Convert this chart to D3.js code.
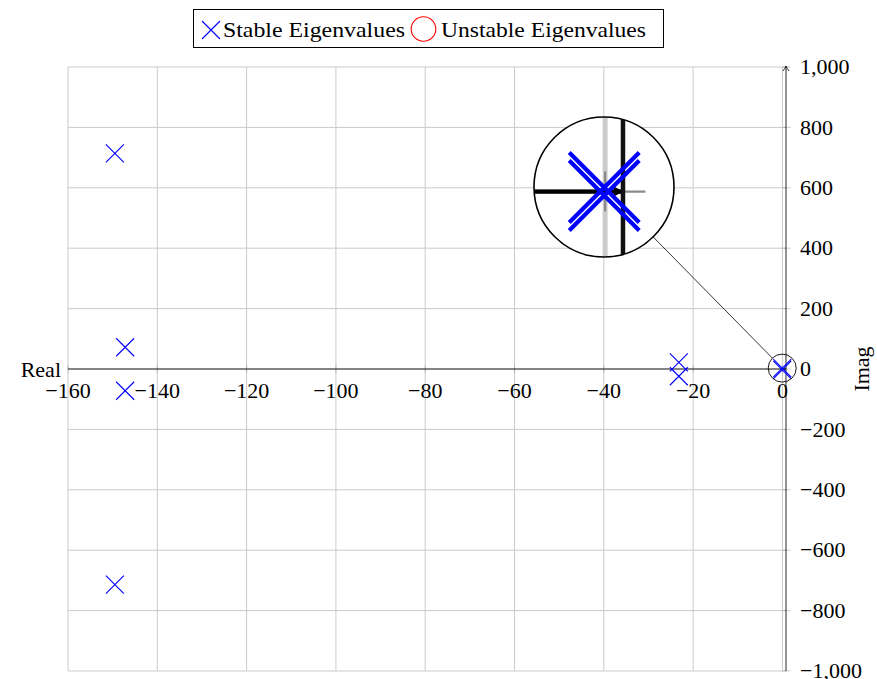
<!DOCTYPE html>
<html>
<head>
<meta charset="utf-8">
<script src="https://cdn.jsdelivr.net/npm/d3@7"></script>
<style>
  body { margin: 0; background: #fff; }
  text { font-family: "Liberation Serif", "Times New Roman", serif; font-size: 22px; fill: #000; }
</style>
</head>
<body>
<svg id="chart" width="877" height="679"></svg>
<script>
// Eigenvalues of the closed-loop system (real part, imaginary part)
const stableRe   = [-149.5, -149.5, -147.2, -147.2, -23.2, -23.2, -0.04, -0.04];
const stableIm   = [714, -714, 72, -72, 22, -24, 2.6, -2.6];
const unstableRe = [];
const unstableIm = [];

const xTicks = [-160, -140, -120, -100, -80, -60, -40, -20, 0];
const yTicks = [-1000, -800, -600, -400, -200, 0, 200, 400, 600, 800, 1000];
const legendLabels = ["Stable Eigenvalues", "Unstable Eigenvalues"];
const axisTitles = ["Real", "Imag"];

// magnified inset around the origin
const spyFocus = [-0.05, 3];
const spyMag = 5;

const svg = d3.select("#chart");
const x = d3.scaleLinear().domain([-160, 0.8]).range([68, 786]);
const y = d3.scaleLinear().domain([-1000, 1000]).range([671, 67]);
const fmt = d3.format(",");

const stable = stableRe.map((r, i) => ({ re: r, im: stableIm[i] }));
const unstable = unstableRe.map((r, i) => ({ re: r, im: unstableIm[i] }));

const crossPath = s => `M${-s},${-s}L${s},${s}M${-s},${s}L${s},${-s}`;

// everything that lives in data space; reused for the magnified inset
function drawScene(g, opt) {
  const [x0, x1] = x.range();
  const [y0, y1] = y.range();

  // grid
  g.append("g").selectAll("line").data(xTicks).join("line")
    .attr("x1", d => x(d)).attr("x2", d => x(d))
    .attr("y1", y1).attr("y2", y0)
    .attr("stroke", "#cbcbcb").attr("stroke-width", 1);
  g.append("g").selectAll("line").data(yTicks).join("line")
    .attr("x1", x0).attr("x2", x1)
    .attr("y1", d => y(d)).attr("y2", d => y(d))
    .attr("stroke", "#cbcbcb").attr("stroke-width", 1);

  // tick marks
  g.append("g").selectAll("line").data(xTicks).join("line")
    .attr("x1", d => x(d)).attr("x2", d => x(d))
    .attr("y1", y(0) - 4).attr("y2", y(0) + 4)
    .attr("stroke", "#8a8a8a").attr("stroke-width", 0.45);
  g.append("g").selectAll("line").data(yTicks).join("line")
    .attr("x1", x1 - 3.5).attr("x2", x1 + 4.5)
    .attr("y1", d => y(d)).attr("y2", d => y(d))
    .attr("stroke", "#8a8a8a").attr("stroke-width", 0.45);

  // real axis with arrow
  g.append("line")
    .attr("x1", x0).attr("x2", x1).attr("y1", y(0)).attr("y2", y(0))
    .attr("stroke", "#000").attr("stroke-width", 0.85);
  g.append("path")
    .attr("d", `M${x1 - 1.8},${y(0) - 1}L${x1},${y(0)}L${x1 - 1.8},${y(0) + 1}Z`)
    .attr("fill", "#000");

  // imaginary axis with arrow
  g.append("line")
    .attr("x1", x1).attr("x2", x1).attr("y1", y0).attr("y2", y1 - 1)
    .attr("stroke", "#111").attr("stroke-width", 0.9);
  g.append("path")
    .attr("d", `M${x1 - 3},${y1 + 4}Q${x1 - 1},${y1 + 1.5} ${x1},${y1 - 1}Q${x1 + 1},${y1 + 1.5} ${x1 + 3},${y1 + 4}`)
    .attr("fill", "none").attr("stroke", "#000").attr("stroke-width", 0.8);

  // tick labels
  g.append("g").selectAll("text").data(xTicks.filter(opt.xLabel)).join("text")
    .attr("x", d => x(d)).attr("y", 398)
    .attr("text-anchor", "middle")
    .text(d => fmt(d));
  g.append("g").selectAll("text").data(yTicks.filter(opt.yLabel)).join("text")
    .attr("x", 800).attr("y", d => y(d)).attr("dy", "0.33em")
    .text(d => fmt(d));

  // axis titles
  if (opt.titles) {
    g.append("text").attr("x", 61).attr("y", 377)
      .attr("text-anchor", "end").text(axisTitles[0]);
    g.append("text")
      .attr("transform", `translate(869,${y(0)}) rotate(-90)`)
      .attr("text-anchor", "middle").text(axisTitles[1]);
  }

  // eigenvalue markers
  g.append("g").selectAll("path").data(stable).join("path")
    .attr("transform", d => `translate(${x(d.re)},${y(d.im)})`)
    .attr("d", crossPath(opt.markSize))
    .attr("fill", "none").attr("stroke", "#0000ff").attr("stroke-width", opt.markWidth);
  g.append("g").selectAll("circle").data(unstable).join("circle")
    .attr("cx", d => x(d.re)).attr("cy", d => y(d.im)).attr("r", opt.markSize * 1.35)
    .attr("fill", "none").attr("stroke", "#ff0000").attr("stroke-width", opt.markWidth);
}

drawScene(svg.append("g"), {
  markSize: 9, markWidth: 1.1, titles: true,
  xLabel: () => true, yLabel: () => true
});

// magnifier: small circle on the origin, large inset up and to the left
const fx = x(spyFocus[0]), fy = y(spyFocus[1]);
const rSmall = 14, rBig = rSmall * spyMag;
const cBig = [604, 187];

const dx = cBig[0] - fx, dy = cBig[1] - fy, dl = Math.hypot(dx, dy);
svg.append("line")
  .attr("x1", fx + dx / dl * rSmall).attr("y1", fy + dy / dl * rSmall)
  .attr("x2", cBig[0] - dx / dl * rBig).attr("y2", cBig[1] - dy / dl * rBig)
  .attr("stroke", "#000").attr("stroke-width", 0.8);
svg.append("circle").attr("cx", fx).attr("cy", fy).attr("r", rSmall)
  .attr("fill", "none").attr("stroke", "#000").attr("stroke-width", 0.9);

svg.append("defs").append("clipPath").attr("id", "spyClip")
  .append("circle").attr("cx", cBig[0]).attr("cy", cBig[1]).attr("r", rBig);
svg.append("circle").attr("cx", cBig[0]).attr("cy", cBig[1]).attr("r", rBig).attr("fill", "#fff");
const spy = svg.append("g").attr("clip-path", "url(#spyClip)")
  .append("g")
  .attr("transform", `translate(${cBig[0]},${cBig[1]}) scale(${spyMag}) translate(${-fx},${-fy})`);
// only the origin's own tick label reaches into the inset
drawScene(spy, {
  markSize: 7, markWidth: 0.85, titles: false,
  xLabel: d => d === 0, yLabel: () => false
});
svg.append("circle").attr("cx", cBig[0]).attr("cy", cBig[1]).attr("r", rBig)
  .attr("fill", "none").attr("stroke", "#000").attr("stroke-width", 1.6);

// legend
const lg = svg.append("g");
lg.append("rect").attr("x", 193.5).attr("y", 9.5).attr("width", 470).attr("height", 38)
  .attr("fill", "#fff").attr("stroke", "#000").attr("stroke-width", 1);
lg.append("path").attr("transform", "translate(211,30)").attr("d", crossPath(9))
  .attr("fill", "none").attr("stroke", "#0000ff").attr("stroke-width", 1.1);
lg.append("text").attr("x", 223).attr("y", 37)
  .attr("textLength", 182).attr("lengthAdjust", "spacingAndGlyphs").text(legendLabels[0]);
lg.append("circle").attr("cx", 423.5).attr("cy", 29).attr("r", 12.3)
  .attr("fill", "none").attr("stroke", "#ff0000").attr("stroke-width", 1.1);
lg.append("text").attr("x", 441).attr("y", 37)
  .attr("textLength", 205).attr("lengthAdjust", "spacingAndGlyphs").text(legendLabels[1]);
</script>
</body>
</html>
